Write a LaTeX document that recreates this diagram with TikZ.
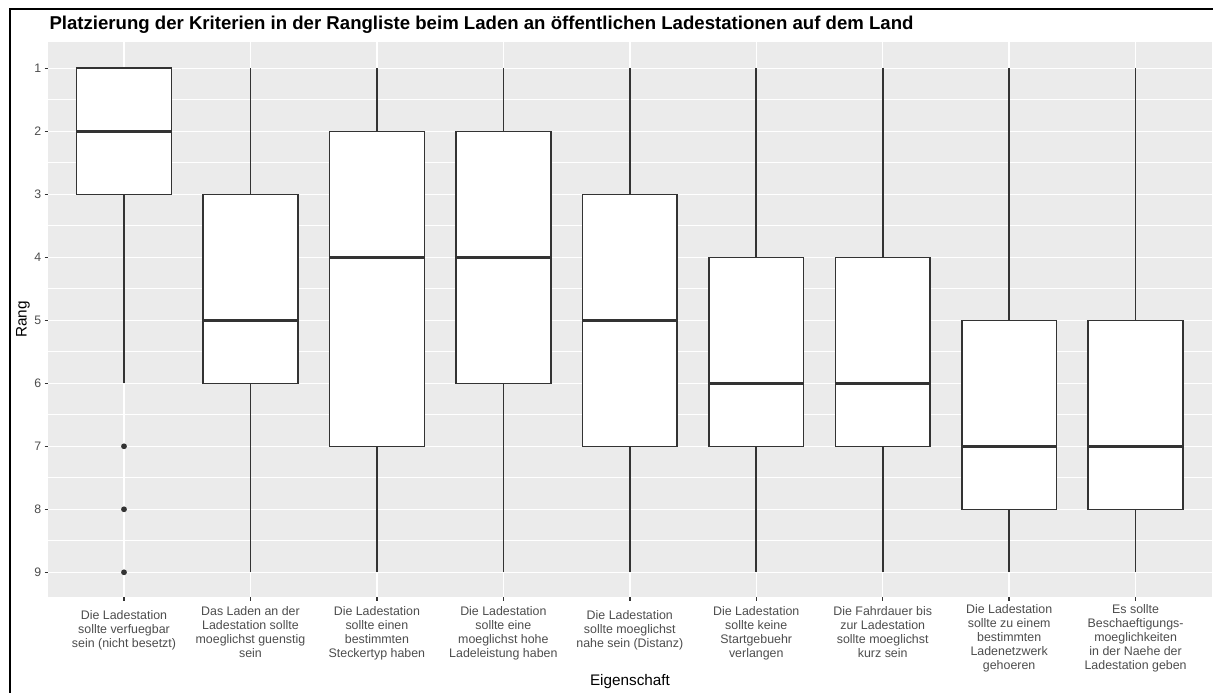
\documentclass[tikz,border=0pt]{standalone}
\usepackage{fontspec}
\setmainfont{Liberation Sans}
\definecolor{panelgrey}{HTML}{EBEBEB}
\definecolor{boxline}{HTML}{333333}
\definecolor{ticktext}{HTML}{4D4D4D}
\tikzset{
  x=1pt, y=-1pt,
  panelbg/.style={fill=panelgrey},
  gridmajor/.style={draw=white, line width=1.4pt},
  gridminor/.style={draw=white, line width=0.7pt},
  tickmark/.style={draw=boxline, line width=1.4pt},
  whisker/.style={draw=boxline, line width=1.6pt},
  boxbody/.style={draw=boxline, fill=white, line width=1.6pt},
  median/.style={draw=boxline, line width=3.2pt},
  outlier/.style={fill=boxline, draw=none},
  ylab/.style={text=ticktext, font=\fontsize{12.3}{13}\selectfont, anchor=east, inner sep=0pt},
  xlab/.style={text=ticktext, font=\fontsize{12.4}{13.9}\selectfont, anchor=north, align=center, inner sep=0pt},
  axistitle/.style={text=black, font=\fontsize{15.3}{17}\selectfont, inner sep=0pt},
  charttitle/.style={text=black, font=\fontsize{18.6}{20}\selectfont\bfseries, anchor=base west, inner sep=0pt},
  frameline/.style={draw=black, line width=2.2pt},
  declare function={ry(\r)=68.3+(\r-1)*63; cx(\i)=124+(\i-1)*126.45;}
}
% one box: #1 category, #2 upper whisker end, #3 upper hinge, #4 median, #5 lower hinge, #6 lower whisker end
\newcommand\rankbox[6]{%
  \pgfmathsetmacro\xc{cx(#1)}%
  \pgfmathsetmacro\xl{\xc-47.4}%
  \pgfmathsetmacro\xr{\xc+47.4}%
  \coordinate (wt#1) at (\xc,{ry(#2)});
  \coordinate (ht#1) at (\xc,{ry(#3)});
  \coordinate (hb#1) at (\xc,{ry(#5)});
  \coordinate (wb#1) at (\xc,{ry(#6)});
  \draw[whisker] (wt#1) -- (ht#1);
  \draw[whisker] (hb#1) -- (wb#1);
  \draw[boxbody] (\xl,{ry(#3)}) rectangle (\xr,{ry(#5)});
  \draw[median] (\xl,{ry(#4)}) -- (\xr,{ry(#4)});
}
\begin{document}
\begin{tikzpicture}
\useasboundingbox (0,0) rectangle (1213,693);
\fill[white] (0,0) rectangle (1213,693);

% plot panel and grid
\fill[panelbg] (48.1,42) rectangle (1212,597.3);
\foreach \r in {1.5,2.5,...,8.5}
  \draw[gridminor] (48.1,{ry(\r)}) -- (1212,{ry(\r)});
\foreach \r in {1,...,9}
  \draw[gridmajor] (48.1,{ry(\r)}) -- (1212,{ry(\r)});
\foreach \i in {1,...,9}
  \draw[gridmajor] ({cx(\i)},42) -- ({cx(\i)},597.3);

% y axis ticks and labels
\foreach \r in {1,...,9} {
  \draw[tickmark] (44.5,{ry(\r)}) -- (48.1,{ry(\r)});
  \node[ylab] (yl\r) at (41.5,{ry(\r)}) {\r};
}
% x axis ticks
\foreach \i in {1,...,9}
  \draw[tickmark] ({cx(\i)},597.3) -- ({cx(\i)},601);

% boxes
\rankbox{1}{1}{1}{2}{3}{6}
\rankbox{2}{1}{3}{5}{6}{9}
\rankbox{3}{1}{2}{4}{7}{9}
\rankbox{4}{1}{2}{4}{6}{9}
\rankbox{5}{1}{3}{5}{7}{9}
\rankbox{6}{1}{4}{6}{7}{9}
\rankbox{7}{1}{4}{6}{7}{9}
\rankbox{8}{1}{5}{7}{8}{9}
\rankbox{9}{1}{5}{7}{8}{9}

% outliers of the first criterion
\foreach \r in {7,8,9}
  \fill[outlier] ({cx(1)},{ry(\r)}) circle (2.9);

% category labels
\node[xlab] (c1) at ({cx(1)},610.3) {Die Ladestation\\sollte verfuegbar\\sein (nicht besetzt)};
\node[xlab] (c2) at ({cx(2)},606.6) {Das Laden an der\\Ladestation sollte\\moeglichst guenstig\\sein};
\node[xlab] (c3) at ({cx(3)},606.6) {Die Ladestation\\sollte einen\\bestimmten\\Steckertyp haben};
\node[xlab] (c4) at ({cx(4)},606.6) {Die Ladestation\\sollte eine\\moeglichst hohe\\Ladeleistung haben};
\node[xlab] (c5) at ({cx(5)},610.3) {Die Ladestation\\sollte moeglichst\\nahe sein (Distanz)};
\node[xlab] (c6) at ({cx(6)},606.6) {Die Ladestation\\sollte keine\\Startgebuehr\\verlangen};
\node[xlab] (c7) at ({cx(7)},606.6) {Die Fahrdauer bis\\zur Ladestation\\sollte moeglichst\\kurz sein};
\node[xlab] (c8) at ({cx(8)},604.3) {Die Ladestation\\sollte zu einem\\bestimmten\\Ladenetzwerk\\gehoeren};
\node[xlab] (c9) at ({cx(9)},604.3) {Es sollte\\Beschaeftigungs-\\moeglichkeiten\\in der Naehe der\\Ladestation geben};

% axis titles and chart title
\node[axistitle] (xt) at (630,682) {Eigenschaft};
\node[axistitle, rotate=90] (yt) at (23,319.6) {Rang};
\node[charttitle] (title) at (49.3,29.5) {Platzierung der Kriterien in der Rangliste beim Laden an öffentlichen Ladestationen auf dem Land};

% frame edges
\draw[frameline] (9.7,693) -- (9.7,8.7) -- (1213,8.7);
\end{tikzpicture}
\end{document}
